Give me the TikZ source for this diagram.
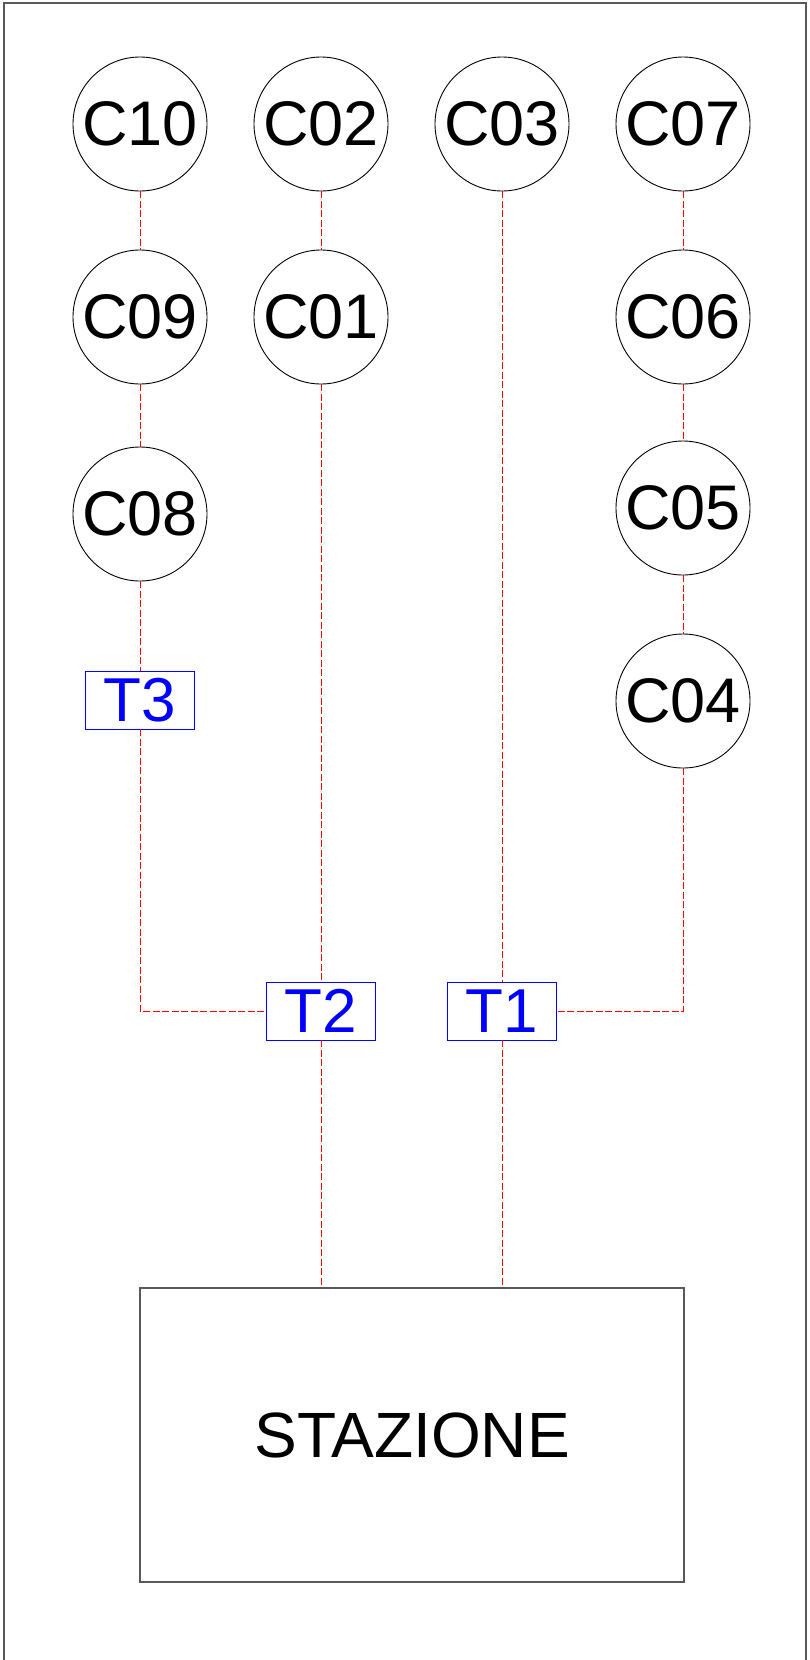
\documentclass[tikz,border=0pt]{standalone}
\usepackage{fontspec}
\setmainfont{Liberation Sans}
\begin{document}
\begin{tikzpicture}[x=1pt,y=-1pt,
  cnode/.style={circle,draw=black,line width=0.9pt,minimum size=134pt,inner sep=0pt,fill=white,font=\fontsize{63}{63}\selectfont},
  tnode/.style={rectangle,draw=blue,line width=0.8pt,minimum width=109pt,minimum height=58pt,inner sep=0pt,fill=white,text=blue,font=\fontsize{62}{62}\selectfont},
  snode/.style={rectangle,draw=black!65,line width=1.2pt,minimum width=544pt,minimum height=294pt,inner sep=0pt,font=\fontsize{64}{64}\selectfont},
  link/.style={draw=red,line width=0.9pt,dash pattern=on 7pt off 2.5pt}]
\useasboundingbox (0,0) rectangle (809,1660);
\draw[black!65,line width=1.2pt] (4,1660) -- (4,3) -- (806,3) -- (806,1660);
% nodes
\node[cnode] (c10) at (140,124) {C10};
\node[cnode] (c02) at (321,124) {C02};
\node[cnode] (c03) at (502,124) {C03};
\node[cnode] (c07) at (683,124) {C07};
\node[cnode] (c09) at (140,317) {C09};
\node[cnode] (c01) at (321,317) {C01};
\node[cnode] (c06) at (683,317) {C06};
\node[cnode] (c08) at (140,514) {C08};
\node[cnode] (c05) at (683,508) {C05};
\node[cnode] (c04) at (683,701) {C04};
\node[tnode] (t3) at (140,700) {T3};
\node[tnode] (t2) at (321,1011) {T2};
\node[tnode] (t1) at (502,1011) {T1};
\node[snode] (st) at (412,1435) {STAZIONE};
% connectors
\draw[link] (c10) -- (c09);
\draw[link] (c09) -- (c08);
\draw[link] (c08) -- (t3);
\draw[link] (t3.south) |- (t2.west);
\draw[link] (c02) -- (c01);
\draw[link] (c01.south) -- (t2.north);
\draw[link] (t2.south) -- (t2.south |- st.north);
\draw[link] (c03.south) -- (t1.north);
\draw[link] (t1.south) -- (t1.south |- st.north);
\draw[link] (c07) -- (c06);
\draw[link] (c06) -- (c05);
\draw[link] (c05) -- (c04);
\draw[link] (c04.south) |- (t1.east);
\end{tikzpicture}
\end{document}
